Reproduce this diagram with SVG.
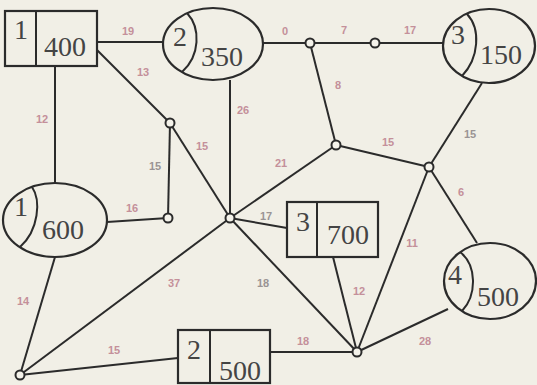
<svg xmlns="http://www.w3.org/2000/svg" width="537" height="385" viewBox="0 0 537 385">
<style>
.ln{stroke:#2b2b2b;stroke-width:2;fill:none}
.sh{stroke:#2b2b2b;stroke-width:2.2;fill:#f1efe6}
.jn{stroke:#2b2b2b;stroke-width:2;fill:#f4f2ea}
.num{font-family:"Liberation Serif",serif;font-size:28px;fill:#444;text-anchor:middle}
.lbl{font-family:"Liberation Sans",sans-serif;font-size:11px;font-weight:bold;fill:#c4909a;text-anchor:middle;dominant-baseline:central}
.lg{fill:#9a9494}
</style>
<rect width="537" height="385" fill="#f1efe6"/>
<g id="connectors">
<line class="ln" x1="97" y1="42" x2="163" y2="42"/>
<line class="ln" x1="97" y1="50" x2="170" y2="123"/>
<line class="ln" x1="55" y1="66" x2="55" y2="183"/>
<line class="ln" x1="263" y1="43" x2="443" y2="43"/>
<line class="ln" x1="230" y1="80" x2="230" y2="218"/>
<line class="ln" x1="310" y1="43" x2="336" y2="145"/>
<line class="ln" x1="482" y1="83" x2="429" y2="167"/>
<line class="ln" x1="336" y1="145" x2="429" y2="167"/>
<line class="ln" x1="336" y1="145" x2="230" y2="218"/>
<line class="ln" x1="429" y1="167" x2="477" y2="243"/>
<line class="ln" x1="429" y1="167" x2="357" y2="352"/>
<line class="ln" x1="170" y1="123" x2="168" y2="218"/>
<line class="ln" x1="170" y1="123" x2="230" y2="218"/>
<line class="ln" x1="107" y1="222" x2="168" y2="218"/>
<line class="ln" x1="230" y1="218" x2="287" y2="228"/>
<line class="ln" x1="230" y1="218" x2="20" y2="375"/>
<line class="ln" x1="230" y1="218" x2="357" y2="352"/>
<line class="ln" x1="55" y1="257" x2="20" y2="375"/>
<line class="ln" x1="20" y1="375" x2="178" y2="358"/>
<line class="ln" x1="270" y1="352" x2="357" y2="352"/>
<line class="ln" x1="333" y1="257" x2="357" y2="352"/>
<line class="ln" x1="357" y1="352" x2="448" y2="309"/>
<text class="lbl" x="128" y="31">19</text>
<text class="lbl" x="143" y="72">13</text>
<text class="lbl" x="42" y="119">12</text>
<text class="lbl" x="243" y="110">26</text>
<text class="lbl" x="285" y="31">0</text>
<text class="lbl" x="344" y="30">7</text>
<text class="lbl" x="410" y="30">17</text>
<text class="lbl" x="338" y="85">8</text>
<text class="lbl lg" x="470" y="134">15</text>
<text class="lbl" x="388" y="142">15</text>
<text class="lbl" x="281" y="163">21</text>
<text class="lbl lg" x="266" y="216">17</text>
<text class="lbl" x="461" y="192">6</text>
<text class="lbl" x="412" y="243">11</text>
<text class="lbl lg" x="155" y="166">15</text>
<text class="lbl" x="202" y="146">15</text>
<text class="lbl" x="132" y="208">16</text>
<text class="lbl" x="174" y="283">37</text>
<text class="lbl lg" x="263" y="283">18</text>
<text class="lbl" x="23" y="301">14</text>
<text class="lbl" x="114" y="350">15</text>
<text class="lbl" x="303" y="341">18</text>
<text class="lbl" x="359" y="291">12</text>
<text class="lbl" x="425" y="341">28</text>
</g>
<g id="j1"><circle class="jn" cx="170" cy="123" r="4.5"/></g>
<g id="j2"><circle class="jn" cx="168" cy="218" r="4.5"/></g>
<g id="j3"><circle class="jn" cx="230" cy="218" r="4.5"/></g>
<g id="j4"><circle class="jn" cx="310" cy="43" r="4.5"/></g>
<g id="j5"><circle class="jn" cx="375" cy="43" r="4.5"/></g>
<g id="j6"><circle class="jn" cx="336" cy="145" r="4.5"/></g>
<g id="j7"><circle class="jn" cx="429" cy="167" r="4.5"/></g>
<g id="j8"><circle class="jn" cx="357" cy="352" r="4.5"/></g>
<g id="j9"><circle class="jn" cx="20" cy="375" r="4.5"/></g>
<g id="nodeA">
<rect class="sh" x="5" y="11" width="92" height="55"/>
<line class="ln" x1="36" y1="11" x2="36" y2="66"/>
<text class="num" x="21" y="39">1</text>
<text class="num" x="65" y="56">400</text>
</g>
<g id="nodeB">
<ellipse class="sh" cx="213" cy="44" rx="50" ry="36"/>
<path class="ln" d="M187,13 C201,28 200,56 182,72"/>
<text class="num" x="180" y="46">2</text>
<text class="num" x="222" y="66">350</text>
</g>
<g id="nodeC">
<ellipse class="sh" cx="489" cy="46" rx="46" ry="37"/>
<path class="ln" d="M467,14 C481,29 479,58 462,76"/>
<text class="num" x="458" y="44">3</text>
<text class="num" x="501" y="64">150</text>
</g>
<g id="nodeD">
<ellipse class="sh" cx="55" cy="220" rx="52" ry="37"/>
<path class="ln" d="M32,187 C41,200 39,230 20,247"/>
<text class="num" x="21" y="216">1</text>
<text class="num" x="63" y="239">600</text>
</g>
<g id="nodeE">
<rect class="sh" x="287" y="202" width="91" height="55"/>
<line class="ln" x1="317" y1="202" x2="317" y2="257"/>
<text class="num" x="303" y="231">3</text>
<text class="num" x="348" y="244">700</text>
</g>
<g id="nodeF">
<ellipse class="sh" cx="490" cy="281" rx="46" ry="38"/>
<path class="ln" d="M460,252 C477,265 477,295 462,311"/>
<text class="num" x="455" y="284">4</text>
<text class="num" x="498" y="306">500</text>
</g>
<g id="nodeG">
<rect class="sh" x="178" y="330" width="92" height="53"/>
<line class="ln" x1="210" y1="330" x2="210" y2="383"/>
<text class="num" x="194" y="359">2</text>
<text class="num" x="240" y="380">500</text>
</g>
</svg>
